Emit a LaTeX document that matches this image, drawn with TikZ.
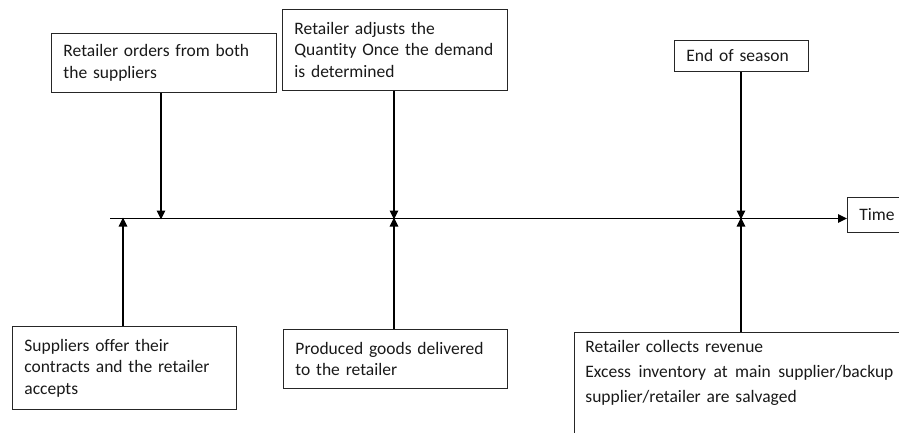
\documentclass[tikz,border=0pt]{standalone}
\usepackage{fontspec}
\setmainfont{Carlito}[Ligatures={NoCommon}]
\usetikzlibrary{arrows.meta}
\tikzset{
  evbox/.style={draw=black!85, line width=0.9pt, anchor=north west, inner xsep=12pt, inner ysep=0pt,
    align=left, font=\fontsize{17.5}{21.5}\selectfont, text=black!90},
  arr/.style={line width=1.6pt, -{Triangle[length=9pt,width=8.5pt]}},
}
\begin{document}
\begin{tikzpicture}[x=1pt,y=-1pt]
\useasboundingbox (0,0) rectangle (899,432);
% timeline
\coordinate (tstart) at (110,218.5);
\node[evbox, anchor=west, minimum height=35pt, text width=60pt] (time) at (847,214.5) {Time};
\draw[arr] (tstart) -- (tstart -| time.west);
% timeline points
\coordinate (p1) at (161,218.5);
\coordinate (p0) at (123,218.5);
\coordinate (p2) at (394,218.5);
\coordinate (p3) at (741,218.5);
% upper boxes
\node[evbox, minimum width=225pt, minimum height=59pt, text width=201pt] (b1) at (51,33)
  {Retailer orders from both\\the suppliers};
\node[evbox, minimum width=225pt, minimum height=81pt, text width=201pt] (b2) at (282,9)
  {Retailer adjusts the\\Quantity Once the demand\\is determined};
\node[evbox, minimum width=134pt, minimum height=31pt, text width=110pt] (b3) at (674,40)
  {End of season};
% lower boxes
\node[evbox, minimum width=224pt, minimum height=83pt, text width=200pt] (b4) at (12,326)
  {Suppliers offer their\\contracts and the retailer\\accepts};
\node[evbox, minimum width=224pt, minimum height=59pt, text width=200pt] (b5) at (283,329)
  {Produced goods delivered\\to the retailer};
\node[evbox, inner xsep=11pt, inner ysep=8pt, text width=340pt, font=\fontsize{17.5}{25}\selectfont] (b6) at (574,332)
  {Retailer collects revenue\\
   \leavevmode\hbox to 308pt{Excess\hfil\ inventory\hfil\ at\hfil\ main\hfil\ supplier/backup}\\
   supplier/retailer are salvaged\rule[-40pt]{0pt}{40pt}};
% connectors
\draw[arr] (b1.south -| p1) -- ([yshift=-1pt]p1);
\draw[arr] (b2.south -| p2) -- ([yshift=-1pt]p2);
\draw[arr] (b3.south -| p3) -- ([yshift=-1pt]p3);
\draw[arr] (b4.north -| p0) -- ([yshift=1pt]p0);
\draw[arr] (b5.north -| p2) -- ([yshift=1pt]p2);
\draw[arr] (b6.north -| p3) -- ([yshift=1pt]p3);
\end{tikzpicture}
\end{document}
